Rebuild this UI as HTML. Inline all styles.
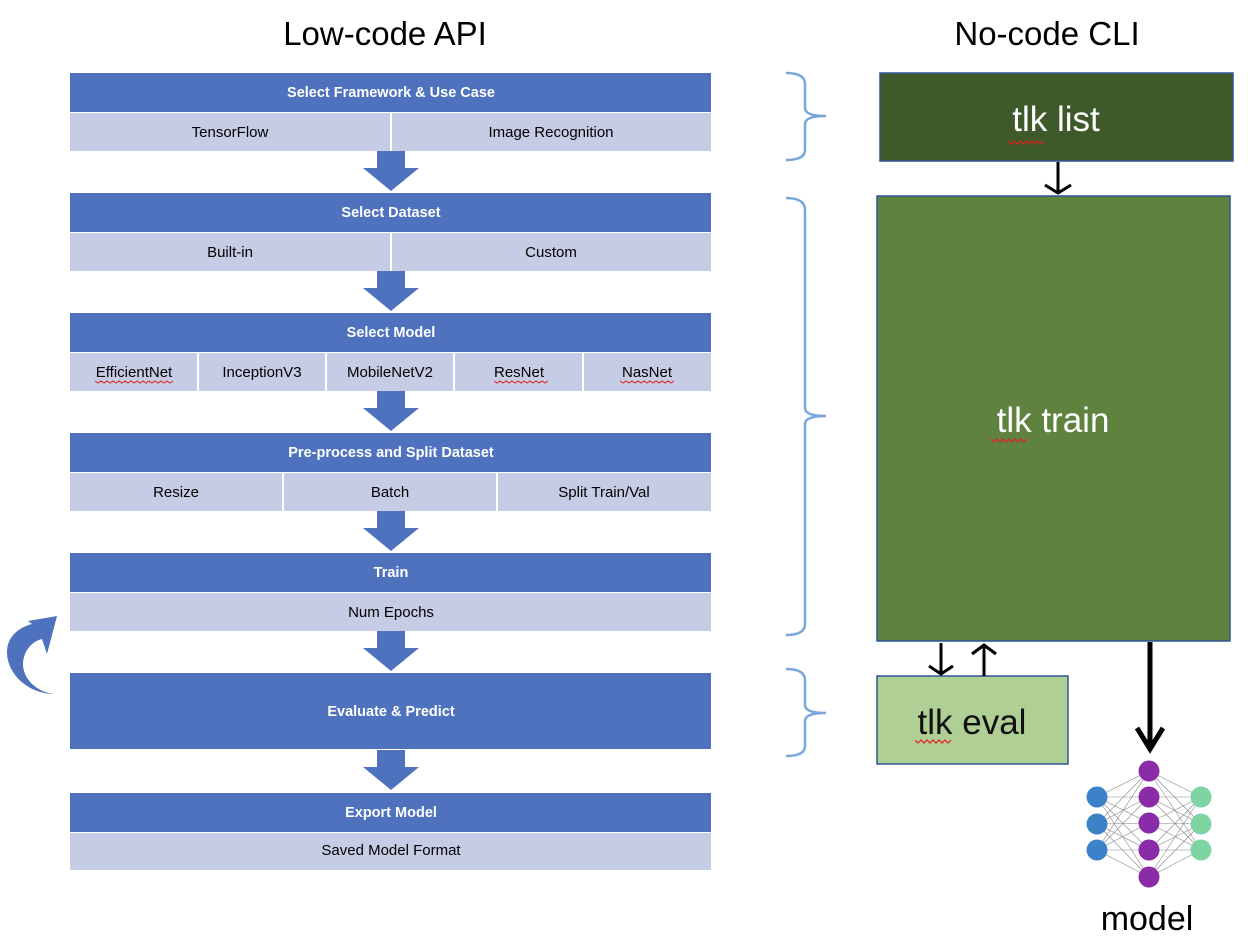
<!DOCTYPE html>
<html><head><meta charset="utf-8"><style>
html,body{margin:0;padding:0;background:#fff;}
svg{display:block;}
text{font-family:"Liberation Sans",sans-serif;}
</style></head><body>
<svg width="1248" height="942" viewBox="0 0 1248 942" xmlns="http://www.w3.org/2000/svg">
<defs>
<g id="dn"><polygon points="377,0 405,0 405,17 419,17 391,40 363,17 377,17" fill="#4e72bd"/></g>
</defs>
<text x="385" y="45" font-size="33" text-anchor="middle" fill="#000">Low-code API</text>
<text x="1047" y="45" font-size="33" text-anchor="middle" fill="#000">No-code CLI</text>

<rect x="70" y="73" width="641" height="39" fill="#4e72bd"/>
<text x="391" y="97" font-size="14.5" font-weight="bold" fill="#fff" text-anchor="middle">Select Framework &amp; Use Case</text>
<rect x="70" y="113" width="320" height="38" fill="#c5cce4"/><rect x="392" y="113" width="319" height="38" fill="#c5cce4"/>
<text x="230" y="137" font-size="15" text-anchor="middle">TensorFlow</text>
<text x="551" y="137" font-size="15" text-anchor="middle">Image Recognition</text>
<use href="#dn" y="151"/>
<rect x="70" y="193" width="641" height="39" fill="#4e72bd"/>
<text x="391" y="217" font-size="14.5" font-weight="bold" fill="#fff" text-anchor="middle">Select Dataset</text>
<rect x="70" y="233" width="320" height="38" fill="#c5cce4"/><rect x="392" y="233" width="319" height="38" fill="#c5cce4"/>
<text x="230" y="257" font-size="15" text-anchor="middle">Built-in</text>
<text x="551" y="257" font-size="15" text-anchor="middle">Custom</text>
<use href="#dn" y="271"/>
<rect x="70" y="313" width="641" height="39" fill="#4e72bd"/>
<text x="391" y="337" font-size="14.5" font-weight="bold" fill="#fff" text-anchor="middle">Select Model</text>
<rect x="70" y="353" width="127" height="38" fill="#c5cce4"/>
<rect x="199" y="353" width="126" height="38" fill="#c5cce4"/>
<rect x="327" y="353" width="126" height="38" fill="#c5cce4"/>
<rect x="455" y="353" width="127" height="38" fill="#c5cce4"/>
<rect x="584" y="353" width="127" height="38" fill="#c5cce4"/>
<text x="134" y="377" font-size="15" text-anchor="middle">EfficientNet</text>
<text x="262" y="377" font-size="15" text-anchor="middle">InceptionV3</text>
<text x="390" y="377" font-size="15" text-anchor="middle">MobileNetV2</text>
<text x="519" y="377" font-size="15" text-anchor="middle">ResNet</text>
<text x="647" y="377" font-size="15" text-anchor="middle">NasNet</text>
<g stroke="#e02020" stroke-width="1" fill="none">
<path d="M95,381 l3,2 3,-2 3,2 3,-2 3,2 3,-2 3,2 3,-2 3,2 3,-2 3,2 3,-2 3,2 3,-2 3,2 3,-2 3,2 3,-2 3,2 3,-2 3,2 3,-2 3,2 3,-2 3,2 3,-2"/>
<path d="M494,381 l3,2 3,-2 3,2 3,-2 3,2 3,-2 3,2 3,-2 3,2 3,-2 3,2 3,-2 3,2 3,-2 3,2 3,-2 3,2 3,-2"/>
<path d="M620,381 l3,2 3,-2 3,2 3,-2 3,2 3,-2 3,2 3,-2 3,2 3,-2 3,2 3,-2 3,2 3,-2 3,2 3,-2 3,2 3,-2"/>
</g>
<use href="#dn" y="391"/>
<rect x="70" y="433" width="641" height="39" fill="#4e72bd"/>
<text x="391" y="457" font-size="14.5" font-weight="bold" fill="#fff" text-anchor="middle">Pre-process and Split Dataset</text>
<rect x="70" y="473" width="212" height="38" fill="#c5cce4"/>
<rect x="284" y="473" width="212" height="38" fill="#c5cce4"/>
<rect x="498" y="473" width="213" height="38" fill="#c5cce4"/>
<text x="176" y="497" font-size="15" text-anchor="middle">Resize</text>
<text x="390" y="497" font-size="15" text-anchor="middle">Batch</text>
<text x="604" y="497" font-size="15" text-anchor="middle">Split Train/Val</text>
<use href="#dn" y="511"/>
<rect x="70" y="553" width="641" height="39" fill="#4e72bd"/>
<text x="391" y="577" font-size="14.5" font-weight="bold" fill="#fff" text-anchor="middle">Train</text>
<rect x="70" y="593" width="641" height="38" fill="#c5cce4"/>
<text x="391" y="617" font-size="15" text-anchor="middle">Num Epochs</text>
<use href="#dn" y="631"/>
<rect x="70" y="673" width="641" height="76" fill="#4e72bd"/>
<text x="391" y="716" font-size="14.5" font-weight="bold" fill="#fff" text-anchor="middle">Evaluate &amp; Predict</text>
<use href="#dn" y="750"/>
<rect x="70" y="793" width="641" height="39" fill="#4e72bd"/>
<text x="391" y="817" font-size="14.5" font-weight="bold" fill="#fff" text-anchor="middle">Export Model</text>
<rect x="70" y="833" width="641" height="37" fill="#c5cce4"/>
<text x="391" y="855" font-size="15" text-anchor="middle">Saved Model Format</text>

<!-- curved arrow -->
<path d="M55,694 C28,694 7,674 7,652 C7,638 17,628 32,624 L28,621 L57,616 L47,654 L42,639 C30,642 23,653 23,665 C24,682 40,693 55,694 Z" fill="#4e72bd"/>

<g stroke="#7aa6db" stroke-width="2.5" fill="none">
<path d="M786,73 Q805,73 805,84 L805,108 Q805,116 826,116 Q805,116 805,124 L805,150 Q805,160 786,160"/>
<path d="M786,198 Q805,198 805,210 L805,408 Q805,416 826,416 Q805,416 805,424 L805,624 Q805,635 786,635"/>
<path d="M786,669 Q805,669 805,680 L805,705 Q805,713 826,713 Q805,713 805,721 L805,746 Q805,756 786,756"/>
</g>

<rect x="880" y="73" width="353" height="88" fill="#3e5a2b" stroke="#2f5597" stroke-width="1.5"/>
<text x="1056" y="131" font-size="35" fill="#fff" text-anchor="middle">tlk list</text>
<rect x="877" y="196" width="353" height="445" fill="#5f823f" stroke="#2f5597" stroke-width="1.5"/>
<text x="1053" y="432" font-size="35" fill="#fff" text-anchor="middle">tlk train</text>
<rect x="877" y="676" width="191" height="88" fill="#b0cf94" stroke="#2f5597" stroke-width="1.5"/>
<text x="972" y="734" font-size="35" fill="#111" text-anchor="middle">tlk eval</text>
<g stroke="#e02020" stroke-width="1.2" fill="none">
<path d="M1008,141 l3,3 3,-3 3,3 3,-3 3,3 3,-3 3,3 3,-3 3,3 3,-3 3,3 3,-3"/>
<path d="M991,439 l3,3 3,-3 3,3 3,-3 3,3 3,-3 3,3 3,-3 3,3 3,-3 3,3 3,-3"/>
<path d="M915,740 l3,3 3,-3 3,3 3,-3 3,3 3,-3 3,3 3,-3 3,3 3,-3 3,3 3,-3"/>
</g>

<g stroke="#000" stroke-width="3" fill="none">
<path d="M1058,162 L1058,192 M1045,185 L1058,193 L1071,185"/>
<path d="M941,643 L941,673 M929,666 L941,674 L953,666"/>
<path d="M984,676 L984,646 M972,654 L984,645 L996,654"/>
</g>
<g stroke="#000" stroke-width="5" fill="none">
<path d="M1150,642 L1150,748 M1137,728 L1150,749 L1163,728"/>
</g>

<g stroke="#888" stroke-width="0.6">
<path d="M1097,797 L1149,771 M1097,797 L1149,797 M1097,797 L1149,823 M1097,797 L1149,850 M1097,797 L1149,877
M1097,824 L1149,771 M1097,824 L1149,797 M1097,824 L1149,823 M1097,824 L1149,850 M1097,824 L1149,877
M1097,850 L1149,771 M1097,850 L1149,797 M1097,850 L1149,823 M1097,850 L1149,850 M1097,850 L1149,877
M1149,771 L1201,797 M1149,771 L1201,824 M1149,771 L1201,850
M1149,797 L1201,797 M1149,797 L1201,824 M1149,797 L1201,850
M1149,823 L1201,797 M1149,823 L1201,824 M1149,823 L1201,850
M1149,850 L1201,797 M1149,850 L1201,824 M1149,850 L1201,850
M1149,877 L1201,797 M1149,877 L1201,824 M1149,877 L1201,850"/>
</g>
<g fill="#3b82c8"><circle cx="1097" cy="797" r="10.5"/><circle cx="1097" cy="824" r="10.5"/><circle cx="1097" cy="850" r="10.5"/></g>
<g fill="#8a2ca8"><circle cx="1149" cy="771" r="10.5"/><circle cx="1149" cy="797" r="10.5"/><circle cx="1149" cy="823" r="10.5"/><circle cx="1149" cy="850" r="10.5"/><circle cx="1149" cy="877" r="10.5"/></g>
<g fill="#7fd4a4"><circle cx="1201" cy="797" r="10.5"/><circle cx="1201" cy="824" r="10.5"/><circle cx="1201" cy="850" r="10.5"/></g>
<text x="1147" y="930" font-size="34" text-anchor="middle" fill="#000">model</text>
</svg>
</body></html>
